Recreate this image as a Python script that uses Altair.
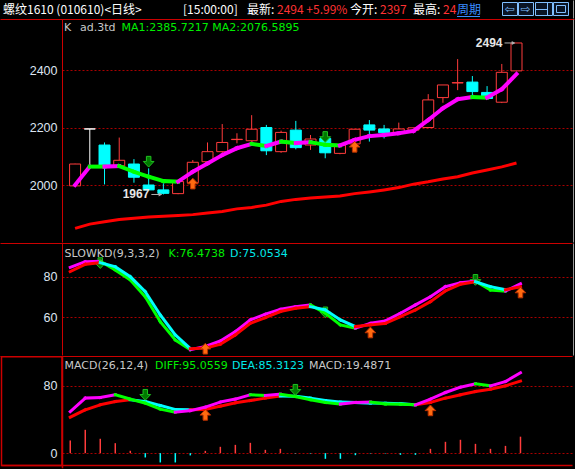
import altair as alt
import pandas as pd

# ---- 螺纹1610 daily bars ----
opens = [1997, 2195, 2139, 2067, 2073, 2000, 1983, 1970, 2008, 2081, 2116, 2158, 2154, 2200, 2116,
         2191, 2139, 2162, 2110, 2143, 2209, 2195, 2180, 2191, 2200, 2304, 2355, 2358, 2322, 2288, 2397]
highs = [2074, 2195, 2148, 2165, 2090, 2058, 2006, 2012, 2087, 2148, 2212, 2180, 2243, 2209, 2189,
         2223, 2174, 2170, 2139, 2194, 2226, 2209, 2217, 2199, 2316, 2348, 2438, 2379, 2344, 2421, 2494]
lows = [1995, 2062, 2002, 2062, 2008, 1983, 1967, 1968, 2005, 2078, 2100, 2145, 2150, 2104, 2112,
        2124, 2122, 2093, 2107, 2140, 2151, 2162, 2178, 2188, 2198, 2286, 2330, 2313, 2299, 2285, 2396]
closes = [2073, 2195, 2067, 2086, 2027, 1983, 1971, 2012, 2079, 2116, 2148, 2159, 2194, 2119, 2183,
          2130, 2160, 2112, 2139, 2194, 2191, 2182, 2195, 2199, 2296, 2348, 2356, 2325, 2301, 2392, 2494]

# moving averages
ma1 = [2000, 2064, 2064, 2066, 2046, 2029, 2014, 2012, 2046, 2075, 2104, 2128, 2143, 2136, 2151,
       2146, 2149, 2140, 2138, 2157, 2170, 2174, 2180, 2188, 2226, 2267, 2298, 2306, 2304, 2333, 2385.7217]
ma2 = [1849, 1864, 1872, 1880, 1884, 1889, 1891, 1894, 1897, 1903, 1908, 1917, 1922, 1930, 1943,
       1950, 1955, 1958, 1962, 1970, 1976, 1983, 1991, 2003, 2011, 2021, 2029, 2042, 2052, 2063, 2076.5895]

# SLOWKD(9,3,3,2)
slow_k = [84.6, 87.4, 87.6, 83.3, 78.4, 70.1, 57.8, 48.8, 44.0, 45.6, 48.3, 52.9, 58.7, 61.5, 63.9,
          65.2, 66.1, 62.0, 56.2, 54.6, 57.0, 58.2, 62.0, 66.1, 70.1, 75.1, 77.0, 77.8, 73.4, 72.9, 76.4738]
slow_d = [82.5, 86.1, 86.9, 84.9, 80.0, 72.6, 61.1, 51.3, 44.5, 44.8, 46.7, 51.3, 57.0, 59.8, 62.8,
          64.4, 65.2, 63.6, 58.7, 55.4, 56.2, 57.0, 60.3, 63.6, 67.7, 73.0, 76.3, 77.5, 75.1, 73.6, 75.0534]

# MACD(26,12,4)
diff = [49.2, 65.1, 65.8, 69.0, 63.9, 59.2, 52.1, 48.5, 50.3, 54.4, 60.4, 63.9, 69.0, 68.2, 69.8,
        67.0, 63.1, 59.9, 58.0, 59.9, 60.4, 58.0, 57.8, 57.2, 63.9, 71.7, 78.1, 82.0, 79.6, 84.7, 95.0559]
dea = [42.6, 51.2, 57.2, 61.1, 63.1, 61.1, 56.3, 51.6, 51.3, 51.6, 55.6, 59.5, 62.2, 65.1, 67.6,
       67.3, 65.1, 62.2, 60.4, 59.9, 59.2, 59.0, 58.6, 57.2, 59.9, 65.1, 69.0, 72.9, 75.7, 79.6, 85.3123]
macd = [15.0, 27.6, 17.0, 11.8, 2.8, -5.1, -11.0, -11.0, -2.7, 2.7, 7.5, 9.8, 12.2, 3.9, 5.1,
        -0.5, -0.6, -6.7, -6.7, -2.4, -0.5, -0.5, -2.0, -2.0, 5.1, 13.4, 15.8, 11.0, 5.1, 8.6, 19.4871]

# buy / sell signal arrows: (bar index, level)
main_sell = [(5, 2081), (17, 2167)]
main_buy = [(8, 2005), (19, 2133)]
kd_sell = [(2, 86.7), (17, 62.4), (27, 78.4)]
kd_buy = [(9, 44.5), (20, 52.5), (30, 72.2)]
macd_sell = [(5, 69.0), (15, 74.9)]
macd_buy = [(9, 45.3), (24, 50.6)]

main_ticks = [2000, 2200, 2400]
kd_ticks = [60, 80]
macd_ticks = [0, 80]

# ---- styling ----
BG = "#000000"
FRAME = "#cc0000"
GRID = "#a80000"
AXIS_TXT = "#dde5f0"
GRAYTXT = "#c8c8c8"
UP = "#ff3c3c"
DOWN = "#00ffff"
MAGENTA = "#ff00ff"
GREEN = "#00ff00"
RED = "#ff0000"
CYAN = "#00ffff"
W = 511
H_TOP, H_MAIN, H_KD, H_MACD = 19, 224, 113, 110
DOWN_ARROW = "M-0.42,-1H0.42V-0.05H1L0,1L-1,-0.05H-0.42Z"
UP_ARROW = "M-0.42,1H0.42V0.05H1L0,-1L-1,0.05H-0.42Z"

n = len(closes)
bars = pd.DataFrame({
    "i": list(range(n)), "open": opens, "high": highs, "low": lows, "close": closes,
    "kind": ["up" if c > o else ("down" if c < o else "flat") for o, c in zip(opens, closes)],
})
one = pd.DataFrame({"k": [0]})

x_scale = alt.Scale(domain=[-0.55, 33.5], nice=False, zero=False)
main_y = alt.Scale(domain=[1798.3, 2577.4], nice=False, zero=False)
kd_y = alt.Scale(domain=[40.9, 96.6], nice=False, zero=False)
macd_y = alt.Scale(domain=[-15.2, 114.9], nice=False, zero=False)


def xq(field):
    return alt.X(field, type="quantitative", scale=x_scale, axis=None)


def y_axis(vals):
    return alt.Axis(values=vals, format="d", grid=True, gridColor=GRID, gridDash=[2, 2],
                    gridWidth=1, ticks=False, domain=False, labelColor=AXIS_TXT,
                    labelFont="Liberation Sans", labelFontSize=12.5, labelFontWeight="normal",
                    labelPadding=5, title=None, labelFlush=False, labelOverlap=False,
                    minExtent=62, maxExtent=62)


def yq(field, scale, ticks):
    return alt.Y(field, type="quantitative", scale=scale, axis=y_axis(ticks))


def txt(s, x, y, color, font="DejaVu Sans", size=11, weight="normal", align="left"):
    return alt.Chart(one).mark_text(text=s, align=align, baseline="middle", font=font,
                                    fontSize=size, fontWeight=weight, color=color).encode(
        x=alt.value(x), y=alt.value(y))


def hline(y, x1, x2, color=FRAME, width=1):
    return alt.Chart(one).mark_rule(color=color, strokeWidth=width).encode(
        x=alt.value(x1), x2=alt.value(x2), y=alt.value(y))


def vline(x, y1, y2, color=FRAME, width=1):
    return alt.Chart(one).mark_rule(color=color, strokeWidth=width).encode(
        x=alt.value(x), y=alt.value(y1), y2=alt.value(y2))


def segments(vals, up_color, down_color):
    rows = []
    for i in range(1, len(vals)):
        rows.append({"i0": i - 1, "i1": i, "v0": vals[i - 1], "v1": vals[i],
                     "c": up_color if vals[i] > vals[i - 1] else down_color})
    return pd.DataFrame(rows)


def seg_layer(vals, up_color, down_color, scale, ticks, width):
    return alt.Chart(segments(vals, up_color, down_color)).mark_rule(
        strokeWidth=width, strokeCap="square", clip=True).encode(
        x=xq("i0"), x2="i1", y=yq("v0", scale, ticks), y2="v1",
        color=alt.Color("c:N", scale=None))


def arrows(points, up, scale, ticks):
    df = pd.DataFrame({"i": [p[0] for p in points], "v": [p[1] for p in points]})
    if up:
        mark = alt.Chart(df).mark_point(shape=UP_ARROW, size=115, filled=True, fill="#ff6a10",
                                        stroke="#b83000", strokeWidth=1, opacity=1, clip=True)
    else:
        mark = alt.Chart(df).mark_point(shape=DOWN_ARROW, size=115, filled=True, fill="#007a00",
                                        stroke="#20c020", strokeWidth=1, opacity=1, clip=True)
    return mark.encode(x=xq("i"), y=yq("v", scale, ticks))


# ---- top status bar ----
CJK = "Noto Sans CJK SC"
top_layers = [
    txt("螺纹1610 (010610)<日线>", -59, 9.5, "#ffffff", font=CJK, size=12),
    txt("[15:00:00]", 121, 9.5, "#ffffff", font=CJK, size=12),
    txt("最新:", 185, 9.5, "#ffffff", font=CJK, size=12),
    txt(f"{closes[-1]} +5.99%", 215, 9.5, "#ff3232", font=CJK, size=12),
    txt("今开:", 288, 9.5, "#ffffff", font=CJK, size=12),
    txt(f"{opens[-1]}", 318, 9.5, "#ff3232", font=CJK, size=12),
    txt("最高:", 351, 9.5, "#ffffff", font=CJK, size=12),
    txt("24", 381, 9.5, "#ff3232", font=CJK, size=12),
    txt("周期", 395, 9.5, "#3a8dff", font=CJK, size=12),
    hline(16.5, 395, 418, color="#3a8dff"),
    vline(511.5, 0.5, 18.5, color="#9a9a9a"),
]
for x1, x2 in [(440, 455), (456, 471), (473, 490), (491, 506)]:
    top_layers.append(
        alt.Chart(one).mark_rect(fill="#0a1424", stroke="#80bfff", strokeWidth=1).encode(
            x=alt.value(x1 + 0.5), x2=alt.value(x2 + 0.5), y=alt.value(2.5), y2=alt.value(15.5)))
top_layers += [
    txt("⇦", 447.5, 9, "#80bfff", size=12, align="center"),
    txt("⇨", 463.5, 9, "#80bfff", size=12, align="center"),
    hline(9.5, 474, 485, color="#80bfff"),
    vline(485.5, 3, 15, color="#80bfff"),
    alt.Chart(one).mark_rect(fillOpacity=0, stroke="#80bfff", strokeWidth=1).encode(
        x=alt.value(494.5), x2=alt.value(503.5), y=alt.value(5.5), y2=alt.value(12.5)),
]
top = alt.layer(*top_layers).properties(width=W, height=H_TOP)

# ---- price panel ----
candle_fill = alt.Scale(domain=["up", "down", "flat"], range=[BG, DOWN, "#ffffff"])
candle_stroke = alt.Scale(domain=["up", "down", "flat"], range=[UP, DOWN, "#ffffff"])
cb = alt.Chart(bars)
wicks = cb.mark_rule(strokeWidth=1, clip=True).encode(
    x=xq("i"), y=yq("low", main_y, main_ticks), y2="high",
    stroke=alt.Stroke("kind:N", scale=candle_stroke, legend=None))
bodies = cb.mark_bar(size=11, strokeWidth=1, clip=True).encode(
    x=xq("i"), y=yq("open", main_y, main_ticks), y2="close",
    fill=alt.Fill("kind:N", scale=candle_fill, legend=None),
    stroke=alt.Stroke("kind:N", scale=candle_stroke, legend=None))
ma2_line = alt.Chart(pd.DataFrame({"i": list(range(n)), "v": ma2})).mark_line(
    color=RED, strokeWidth=3, clip=True).encode(x=xq("i"), y=yq("v", main_y, main_ticks))
ma1_segs = seg_layer(ma1, MAGENTA, GREEN, main_y, main_ticks, 4)

lo_i = lows.index(min(lows))
hi_i = highs.index(max(highs))
marks_df = pd.DataFrame({"i": [lo_i, hi_i], "v": [lows[lo_i], highs[hi_i]],
                         "t": [str(lows[lo_i]), str(highs[hi_i])]})
ext_text = alt.Chart(marks_df).mark_text(align="right", baseline="middle", dx=-14,
                                         font="Liberation Sans", fontSize=12, fontWeight="bold",
                                         color="#e6e6e6").encode(
    x=xq("i"), y=yq("v", main_y, main_ticks), text="t:N")
ext_line = alt.Chart(marks_df).mark_rule(color="#b0b0b0", strokeWidth=1, xOffset=-12,
                                         x2Offset=-2).encode(
    x=xq("i"), x2="i", y=yq("v", main_y, main_ticks))
ext_head = alt.Chart(marks_df).mark_point(shape="triangle-right", size=16, filled=True,
                                          color="#b0b0b0", opacity=1, xOffset=-3).encode(
    x=xq("i"), y=yq("v", main_y, main_ticks))

main = alt.layer(
    hline(0.5, -61.5, 512.5),
    vline(0.5, 0.5, H_MAIN - 0.5),
    vline(511.5, 0.5, H_MAIN - 0.5, color="#9a9a9a"),
    wicks, bodies, ma2_line, ma1_segs,
    arrows(main_sell, False, main_y, main_ticks),
    arrows(main_buy, True, main_y, main_ticks),
    ext_line, ext_head, ext_text,
    txt("K", 2, 9, GRAYTXT),
    txt("ad.3td", 18, 9, GRAYTXT),
    txt(f"MA1:{ma1[-1]:.4f} MA2:{ma2[-1]:.4f}", 59.5, 9, "#00ee00"),
).properties(width=W, height=H_MAIN)

# ---- SLOWKD panel ----
kd = alt.layer(
    hline(0.5, -61.5, 510.5),
    vline(0.5, 0.5, H_KD - 0.5),
    vline(511.5, 0.5, H_KD - 0.5, color="#9a9a9a"),
    arrows(kd_sell, False, kd_y, kd_ticks),
    seg_layer(slow_k, MAGENTA, GREEN, kd_y, kd_ticks, 3),
    seg_layer(slow_d, RED, CYAN, kd_y, kd_ticks, 3),
    arrows(kd_buy, True, kd_y, kd_ticks),
    txt("SLOWKD(9,3,3,2)", 2.5, 11, GRAYTXT),
    txt(f"K:{slow_k[-1]:.4f}", 106.5, 11, "#00ee00"),
    txt(f"D:{slow_d[-1]:.4f}", 168, 11, "#00e8e8"),
).properties(width=W, height=H_KD)

# ---- MACD panel ----
hist_df = pd.DataFrame({"i": list(range(n)), "base": [0.0] * n, "v": macd,
                        "c": [UP if v > 0 else DOWN for v in macd]})
hist = alt.Chart(hist_df).mark_rule(strokeWidth=1.5, clip=True).encode(
    x=xq("i"), y=yq("base", macd_y, macd_ticks), y2="v", color=alt.Color("c:N", scale=None))

macd_panel = alt.layer(
    hline(0.5, -61.5, 510.5),
    alt.Chart(one).mark_rect(fillOpacity=0, stroke=FRAME, strokeWidth=1.5).encode(
        x=alt.value(-60.5), x2=alt.value(0), y=alt.value(0.75), y2=alt.value(H_MACD - 0.5)),
    vline(0.5, 0.75, H_MACD + 2.25, width=1.5),
    hline(H_MACD - 0.5, -60.5, 510.5, width=1.5),
    hist,
    seg_layer(dea, RED, CYAN, macd_y, macd_ticks, 3),
    seg_layer(diff, MAGENTA, GREEN, macd_y, macd_ticks, 3),
    arrows(macd_sell, False, macd_y, macd_ticks),
    arrows(macd_buy, True, macd_y, macd_ticks),
    txt("MACD(26,12,4)", 2.5, 10, GRAYTXT),
    txt(f"DIFF:{diff[-1]:.4f}", 93, 10, "#00ee00"),
    txt(f"DEA:{dea[-1]:.4f}", 170, 10, "#00e8e8"),
    txt(f"MACD:{macd[-1]:.4f}", 247, 10, GRAYTXT),
).properties(width=W, height=H_MACD)

chart = alt.vconcat(top, main, kd, macd_panel, spacing=0, bounds="flush").properties(
    padding={"left": 0, "top": 0, "right": 0, "bottom": 0},
    background=BG,
).configure_view(strokeWidth=0).configure_concat(spacing=0)

chart.save("out.html", embed_options={"renderer": "svg", "actions": False})
